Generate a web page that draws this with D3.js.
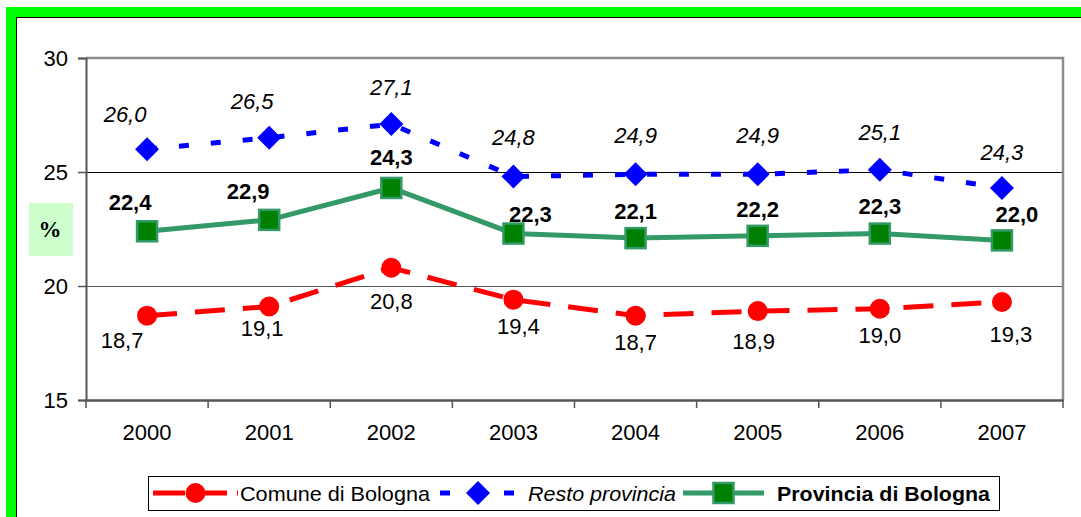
<!DOCTYPE html>
<html>
<head>
<meta charset="utf-8">
<script src="https://cdn.jsdelivr.net/npm/d3@7"></script>
<style>
  html, body { margin: 0; padding: 0; background: #fff; }
  svg { display: block; font-family: "Liberation Sans", Arial, sans-serif; }
</style>
</head>
<body>
<div id="chart"></div>
<script>
const years = ["2000", "2001", "2002", "2003", "2004", "2005", "2006", "2007"];
const comune = [18.7, 19.1, 20.8, 19.4, 18.7, 18.9, 19.0, 19.3];
const resto = [26.0, 26.5, 27.1, 24.8, 24.9, 24.9, 25.1, 24.3];
const provincia = [22.4, 22.9, 24.3, 22.3, 22.1, 22.2, 22.3, 22.0];
const yTicks = [15, 20, 25, 30];

// label nudges (layout only), px from the marker
const comuneOff = [[-25, 25], [-7, 22], [0, 34], [5, 27], [0, 27], [-4, 30], [0, 27], [9, 33]];
const restoOff = [[-22, -35], [-17, -36], [0, -37], [0, -39], [0, -39], [0, -39], [0, -37], [0, -35]];
const provOff = [[-17, -29], [-21, -28], [0, -30], [17, -19], [0, -27], [0, -26], [0, -27], [15, -26]];

const W = 1081, H = 517;
const plot = { left: 86, right: 1063, top: 58, bottom: 400 };
const FONT = "'Liberation Sans', Arial, sans-serif";
const fmt = v => v.toFixed(1).replace(".", ",");

const svg = d3.select("#chart").append("svg").attr("width", W).attr("height", H)
  .attr("font-family", FONT);

// frame
svg.append("rect").attr("x", 0).attr("y", 0).attr("width", W).attr("height", H).attr("fill", "#fff");
svg.append("rect").attr("x", 6).attr("y", 7).attr("width", W).attr("height", 10).attr("fill", "#00ff00");
svg.append("rect").attr("x", 6).attr("y", 7).attr("width", 10).attr("height", H).attr("fill", "#00ff00");
svg.append("line").attr("x1", 16.5).attr("x2", W).attr("y1", 17.5).attr("y2", 17.5).attr("stroke", "#000");
svg.append("line").attr("x1", 16.5).attr("x2", 16.5).attr("y1", 17.5).attr("y2", H).attr("stroke", "#000");

const x = d3.scaleBand().domain(years).range([plot.left, plot.right]).padding(0);
const y = d3.scaleLinear().domain([15, 30]).range([plot.bottom, plot.top]);
const cx = d => x(d) + x.bandwidth() / 2;

// gridlines
svg.append("g").selectAll("line").data([20, 25]).join("line")
  .attr("x1", plot.left).attr("x2", plot.right)
  .attr("y1", d => Math.round(y(d)) + 0.5).attr("y2", d => Math.round(y(d)) + 0.5)
  .attr("stroke", (d) => d === 25 ? "#000" : "#555").attr("stroke-width", 1.2);

// plot border (top / right)
svg.append("path")
  .attr("d", `M${plot.left},${plot.top}H${plot.right}V${plot.bottom}`)
  .attr("fill", "none").attr("stroke", "#8c8c8c").attr("stroke-width", 2.5);

// y axis
const yAxis = svg.append("g").attr("transform", `translate(${plot.left},0)`)
  .call(d3.axisLeft(y).tickValues(yTicks).tickSize(8).tickPadding(10).tickFormat(d3.format("d")));
yAxis.select(".domain").attr("stroke", "#555").attr("stroke-width", 2);
yAxis.selectAll(".tick line").attr("stroke", "#555").attr("stroke-width", 1.5);
yAxis.selectAll("text").attr("font-size", 22).attr("fill", "#000").attr("font-family", FONT);

// x axis
const xAxis = svg.append("g").attr("transform", `translate(0,${plot.bottom})`)
  .call(d3.axisBottom(x).tickSize(0).tickPadding(24));
xAxis.select(".domain").attr("stroke", "#555").attr("stroke-width", 2.5);
xAxis.selectAll("text").attr("font-size", 22).attr("fill", "#000").attr("font-family", FONT);
svg.append("g").selectAll("line").data(years.slice(1).concat(["end"])).join("line")
  .attr("x1", d => d === "end" ? plot.right : x(d)).attr("x2", d => d === "end" ? plot.right : x(d))
  .attr("y1", plot.bottom).attr("y2", plot.bottom + 8)
  .attr("stroke", "#555").attr("stroke-width", 1.5);
svg.append("line").attr("x1", plot.left).attr("x2", plot.left).attr("y1", plot.bottom).attr("y2", plot.bottom + 8)
  .attr("stroke", "#555").attr("stroke-width", 1.5);

// % label
svg.append("rect").attr("x", 29).attr("y", 203).attr("width", 44).attr("height", 53).attr("fill", "#ccffcc");
svg.append("text").attr("x", 50).attr("y", 229).attr("text-anchor", "middle").attr("dominant-baseline", "central")
  .attr("font-family", "'Liberation Serif', 'Times New Roman', serif").attr("font-weight", "bold").attr("font-size", 23)
  .text("%");

const line = d3.line().x((d, i) => cx(years[i])).y(d => y(d));

// series
const series = [
  { name: "comune", values: comune, color: "#ff0000", dash: "30,18", off: comuneOff, weight: "normal", style: "normal" },
  { name: "resto", values: resto, color: "#0000ff", dash: "10,22", off: restoOff, weight: "normal", style: "italic" },
  { name: "provincia", values: provincia, color: "#339966", dash: null, off: provOff, weight: "bold", style: "normal" }
];

function drawMarker(g, kind, px, py) {
  if (kind === "comune") {
    g.append("circle").attr("cx", px).attr("cy", py).attr("r", 10).attr("fill", "#ff0000");
  } else if (kind === "resto") {
    g.append("path").attr("d", `M${px},${py - 12}L${px + 12},${py}L${px},${py + 12}L${px - 12},${py}Z`).attr("fill", "#0000ff");
  } else {
    g.append("rect").attr("x", px - 10).attr("y", py - 10).attr("width", 20).attr("height", 20)
      .attr("fill", "#008000").attr("stroke", "#339966").attr("stroke-width", 2.5);
  }
}

series.forEach(s => {
  const g = svg.append("g").attr("class", "series-" + s.name);
  g.append("path").datum(s.values).attr("d", line)
    .attr("fill", "none").attr("stroke", s.color).attr("stroke-width", 5)
    .attr("stroke-dasharray", s.dash);
  s.values.forEach((v, i) => drawMarker(g, s.name, cx(years[i]), y(v)));
  g.selectAll("text.lbl").data(s.values).join("text").attr("class", "lbl")
    .attr("x", (d, i) => cx(years[i]) + s.off[i][0])
    .attr("y", (d, i) => y(d) + s.off[i][1])
    .attr("text-anchor", "middle").attr("dominant-baseline", "central")
    .attr("font-size", 22).attr("font-weight", s.weight).attr("font-style", s.style)
    .attr("fill", "#000")
    .text(d => fmt(d));
});

// legend
const lg = svg.append("g");
lg.append("rect").attr("x", 148.5).attr("y", 476.5).attr("width", 851).attr("height", 34)
  .attr("fill", "#fff").attr("stroke", "#000").attr("stroke-width", 1);
const ly = 493;
const legendItems = [
  { name: "comune", label: "Comune di Bologna", x0: 153, x1: 238, tx: 240, tw: 190, weight: "normal", style: "normal" },
  { name: "resto", label: "Resto provincia", x0: 440, x1: 516, tx: 528, tw: 148, weight: "normal", style: "italic" },
  { name: "provincia", label: "Provincia di Bologna", x0: 683, x1: 764, tx: 777, tw: 213, weight: "bold", style: "normal" }
];
legendItems.forEach(it => {
  const s = series.find(d => d.name === it.name);
  lg.append("line").attr("x1", it.x0).attr("x2", it.x1).attr("y1", ly).attr("y2", ly)
    .attr("stroke", s.color).attr("stroke-width", 5)
    .attr("stroke-dasharray", it.name === "comune" ? "32,10" : it.name === "resto" ? "10,22" : null);
  drawMarker(lg, it.name, (it.x0 + it.x1) / 2, ly);
  lg.append("text").attr("x", it.tx).attr("y", ly).attr("dominant-baseline", "central")
    .attr("font-size", 21).attr("font-weight", it.weight).attr("font-style", it.style)
    .attr("textLength", it.tw).attr("lengthAdjust", "spacingAndGlyphs")
    .text(it.label);
});
</script>
</body>
</html>
